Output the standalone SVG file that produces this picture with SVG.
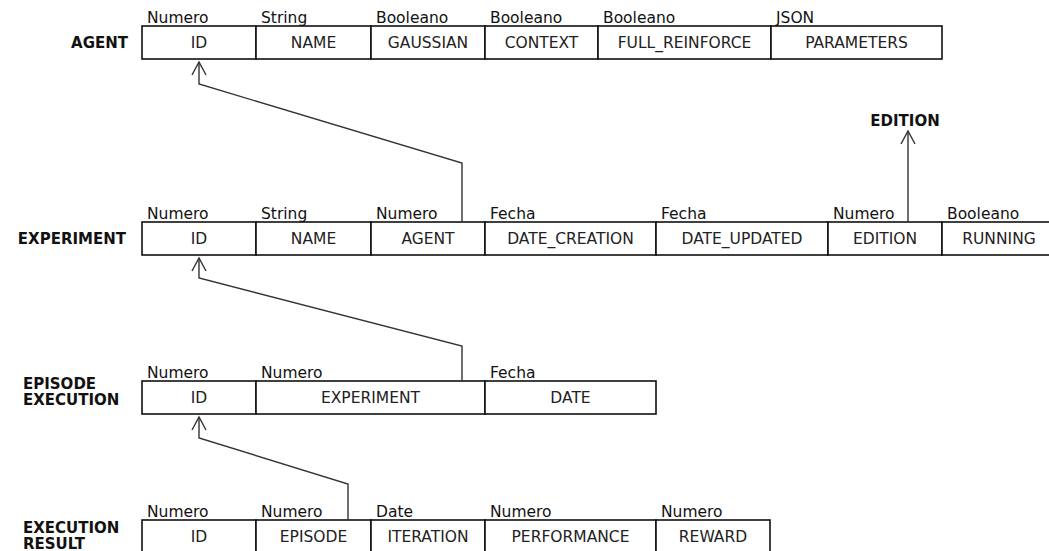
<svg xmlns="http://www.w3.org/2000/svg" width="1049" height="551" viewBox="0 0 1049 551">
  <style>
    .cell { fill: #ffffff; stroke: #111111; stroke-width: 1.6; }
    .type { font-family: "DejaVu Sans", sans-serif; font-size: 15.5px; fill: #111111; }
    .name { font-family: "DejaVu Sans", sans-serif; font-size: 15.5px; fill: #222222; text-anchor: middle; }
    .title { font-family: "DejaVu Sans", sans-serif; font-size: 15px; font-weight: bold; fill: #111111; }
    .link { fill: none; stroke: #333333; stroke-width: 1.4; }
  </style>
  <defs>
    <marker id="open-arrow" markerUnits="userSpaceOnUse" viewBox="-15 -10 20 20" refX="0" refY="0" markerWidth="20" markerHeight="20" orient="auto" overflow="visible">
      <path d="M -13 -7 L 0 0 L -13 7" fill="none" stroke="#333333" stroke-width="1.4"/>
    </marker>
  </defs>

  <rect width="1049" height="551" fill="#ffffff"/>

  <!-- AGENT table -->
  <g id="agent">
    <text class="title" x="128" y="48" text-anchor="end">AGENT</text>
    <rect class="cell" x="142" y="26" width="114" height="33"/>
    <rect class="cell" x="256" y="26" width="115" height="33"/>
    <rect class="cell" x="371" y="26" width="114" height="33"/>
    <rect class="cell" x="485" y="26" width="113" height="33"/>
    <rect class="cell" x="598" y="26" width="173" height="33"/>
    <rect class="cell" x="771" y="26" width="171" height="33"/>
    <text class="type" x="147" y="23">Numero</text>
    <text class="type" x="261" y="23">String</text>
    <text class="type" x="376" y="23">Booleano</text>
    <text class="type" x="490" y="23">Booleano</text>
    <text class="type" x="603" y="23">Booleano</text>
    <text class="type" x="776" y="23">JSON</text>
    <text class="name" x="199" y="48">ID</text>
    <text class="name" x="313.5" y="48">NAME</text>
    <text class="name" x="428" y="48">GAUSSIAN</text>
    <text class="name" x="541.5" y="48">CONTEXT</text>
    <text class="name" x="684.5" y="48">FULL_REINFORCE</text>
    <text class="name" x="856.5" y="48">PARAMETERS</text>
  </g>

  <!-- EDITION reference target -->
  <g id="edition">
    <text class="title" x="905" y="126" text-anchor="middle">EDITION</text>
  </g>

  <!-- EXPERIMENT table -->
  <g id="experiment">
    <text class="title" x="126" y="244" text-anchor="end">EXPERIMENT</text>
    <rect class="cell" x="142" y="222" width="114" height="33"/>
    <rect class="cell" x="256" y="222" width="115" height="33"/>
    <rect class="cell" x="371" y="222" width="114" height="33"/>
    <rect class="cell" x="485" y="222" width="171" height="33"/>
    <rect class="cell" x="656" y="222" width="172" height="33"/>
    <rect class="cell" x="828" y="222" width="114" height="33"/>
    <rect class="cell" x="942" y="222" width="114" height="33"/>
    <text class="type" x="147" y="219">Numero</text>
    <text class="type" x="261" y="219">String</text>
    <text class="type" x="376" y="219">Numero</text>
    <text class="type" x="490" y="219">Fecha</text>
    <text class="type" x="661" y="219">Fecha</text>
    <text class="type" x="833" y="219">Numero</text>
    <text class="type" x="947" y="219">Booleano</text>
    <text class="name" x="199" y="244">ID</text>
    <text class="name" x="313.5" y="244">NAME</text>
    <text class="name" x="428" y="244">AGENT</text>
    <text class="name" x="570.5" y="244">DATE_CREATION</text>
    <text class="name" x="742" y="244">DATE_UPDATED</text>
    <text class="name" x="885" y="244">EDITION</text>
    <text class="name" x="999" y="244">RUNNING</text>
  </g>

  <!-- EPISODE EXECUTION table -->
  <g id="episode-execution">
    <text class="title" x="23" y="389">EPISODE</text>
    <text class="title" x="23" y="405">EXECUTION</text>
    <rect class="cell" x="142" y="381" width="114" height="33"/>
    <rect class="cell" x="256" y="381" width="229" height="33"/>
    <rect class="cell" x="485" y="381" width="171" height="33"/>
    <text class="type" x="147" y="378">Numero</text>
    <text class="type" x="261" y="378">Numero</text>
    <text class="type" x="490" y="378">Fecha</text>
    <text class="name" x="199" y="403">ID</text>
    <text class="name" x="370.5" y="403">EXPERIMENT</text>
    <text class="name" x="570.5" y="403">DATE</text>
  </g>

  <!-- EXECUTION RESULT table -->
  <g id="execution-result">
    <text class="title" x="23" y="533">EXECUTION</text>
    <text class="title" x="23" y="549">RESULT</text>
    <rect class="cell" x="142" y="520" width="114" height="33"/>
    <rect class="cell" x="256" y="520" width="115" height="33"/>
    <rect class="cell" x="371" y="520" width="114" height="33"/>
    <rect class="cell" x="485" y="520" width="171" height="33"/>
    <rect class="cell" x="656" y="520" width="114" height="33"/>
    <text class="type" x="147" y="517">Numero</text>
    <text class="type" x="261" y="517">Numero</text>
    <text class="type" x="376" y="517">Date</text>
    <text class="type" x="490" y="517">Numero</text>
    <text class="type" x="661" y="517">Numero</text>
    <text class="name" x="199" y="542">ID</text>
    <text class="name" x="313.5" y="542">EPISODE</text>
    <text class="name" x="428" y="542">ITERATION</text>
    <text class="name" x="570.5" y="542">PERFORMANCE</text>
    <text class="name" x="713" y="542">REWARD</text>
  </g>

  <!-- foreign key references -->
  <g id="connectors">
    <polyline class="link" points="462,222 462,163 199,84 199,62" marker-end="url(#open-arrow)"/>
    <polyline class="link" points="462,381 462,346 199,278 199,258" marker-end="url(#open-arrow)"/>
    <polyline class="link" points="348,520 348,484 199,438 199,417" marker-end="url(#open-arrow)"/>
    <polyline class="link" points="908,222 908,131" marker-end="url(#open-arrow)"/>
  </g>
</svg>
